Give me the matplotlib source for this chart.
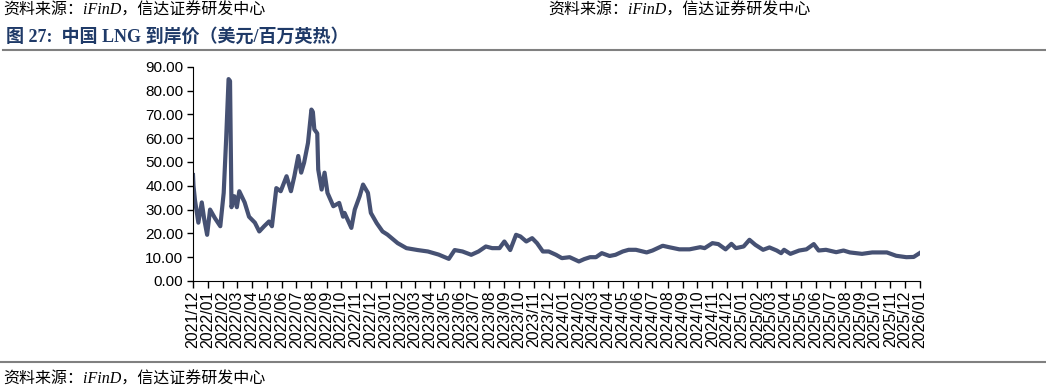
import matplotlib
matplotlib.use("Agg")
import matplotlib.pyplot as plt
import matplotlib.dates as mdates
import pandas as pd

plt.rcParams['font.family'] = ['Liberation Sans', 'Noto Sans CJK SC']

# China LNG landed price (USD/MMBtu)
dates = [
    "2021-12-01", "2021-12-02", "2021-12-05", "2021-12-12", "2021-12-19", "2021-12-24", "2021-12-30",
    "2022-01-05", "2022-01-15", "2022-01-26", "2022-02-02", "2022-02-07", "2022-02-12", "2022-02-15",
    "2022-02-18", "2022-02-24", "2022-03-01", "2022-03-06", "2022-03-17", "2022-03-26", "2022-04-07",
    "2022-04-16", "2022-04-26", "2022-05-06", "2022-05-12", "2022-05-21", "2022-05-30", "2022-06-11",
    "2022-06-20", "2022-06-27", "2022-07-05", "2022-07-11", "2022-07-17", "2022-07-25", "2022-08-01",
    "2022-08-04", "2022-08-07", "2022-08-13", "2022-08-15", "2022-08-22", "2022-08-28", "2022-09-03",
    "2022-09-15", "2022-09-27", "2022-10-05", "2022-10-08", "2022-10-22", "2022-10-29", "2022-11-08",
    "2022-11-15", "2022-11-25", "2022-12-01", "2022-12-13", "2022-12-25", "2023-01-04", "2023-01-25",
    "2023-02-12", "2023-03-07", "2023-03-28", "2023-04-19", "2023-05-10", "2023-05-22", "2023-06-07",
    "2023-06-25", "2023-07-10", "2023-07-25", "2023-08-07", "2023-08-22", "2023-09-01", "2023-09-13",
    "2023-09-25", "2023-10-04", "2023-10-16", "2023-10-28", "2023-11-07", "2023-11-19", "2023-12-01",
    "2023-12-16", "2023-12-28", "2024-01-13", "2024-02-01", "2024-02-12", "2024-02-24", "2024-03-07",
    "2024-03-19", "2024-04-04", "2024-04-16", "2024-05-01", "2024-05-13", "2024-05-28", "2024-06-19",
    "2024-07-01", "2024-07-22", "2024-08-04", "2024-08-25", "2024-09-15", "2024-10-07", "2024-10-16",
    "2024-11-01", "2024-11-13", "2024-11-28", "2024-12-10", "2024-12-19", "2025-01-04", "2025-01-16",
    "2025-01-28", "2025-02-13", "2025-02-26", "2025-03-13", "2025-03-22", "2025-03-28", "2025-04-10",
    "2025-04-28", "2025-05-13", "2025-05-28", "2025-06-07", "2025-06-22", "2025-07-13", "2025-07-28",
    "2025-08-10", "2025-09-04", "2025-09-25", "2025-10-25", "2025-11-13", "2025-12-04", "2025-12-19",
    "2026-01-01",
]
prices = [
    44.5, 40.0, 34.0, 24.5, 33.0, 26.0, 19.4,
    30.0, 26.4, 23.0, 37.0, 59.5, 84.8, 84.0,
    31.0, 35.6, 31.0, 37.7, 33.0, 27.0, 24.5,
    20.8, 23.0, 25.0, 23.0, 39.0, 37.7, 44.0,
    37.7, 44.0, 52.5, 45.5, 49.7, 58.0, 72.0,
    71.0, 63.7, 62.0, 46.8, 38.4, 45.5, 37.0,
    31.4, 32.8, 27.0, 28.6, 22.3, 30.0, 35.6,
    40.5, 37.0, 28.6, 24.3, 20.8, 19.5, 15.9,
    13.8, 13.0, 12.4, 11.1, 9.3, 13.0, 12.4,
    11.0, 12.4, 14.5, 13.8, 13.8, 16.6, 13.0,
    19.4, 18.7, 16.6, 18.0, 15.9, 12.4, 12.4,
    11.0, 9.6, 10.0, 8.2, 9.2, 10.0, 10.0,
    11.7, 10.5, 11.0, 12.4, 13.1, 13.1, 12.0,
    12.8, 14.8, 14.2, 13.3, 13.3, 14.2, 13.8,
    15.9, 15.5, 13.3, 15.6, 13.8, 14.5, 17.3,
    15.2, 13.1, 14.1, 12.8, 11.7, 13.1, 11.4,
    12.8, 13.3, 15.5, 12.8, 13.1, 12.1, 12.8,
    12.0, 11.4, 12.0, 12.0, 10.6, 10.0, 10.1,
    11.8,
]
yticks = [0, 10, 20, 30, 40, 50, 60, 70, 80, 90]

source = "资料来源：iFinD，信达证券研发中心"
title = "图 27:  中国 LNG 到岸价（美元/百万英热）"

W, H = 1046, 392
fig = plt.figure(figsize=(W / 100, H / 100), dpi=100)

x = pd.to_datetime(dates)
ax = fig.add_axes([193 / W, 1 - 281 / H, (920 - 193) / W, (281 - 66.7) / H])
ax.plot(x, prices, color='#465173', linewidth=3, solid_joinstyle='round')

ax.set_xlim(pd.Timestamp("2021-12-01"), pd.Timestamp("2026-01-01"))
ax.set_ylim(0, 90)
ax.set_yticks(yticks)
ax.yaxis.set_major_formatter(matplotlib.ticker.FormatStrFormatter('%.2f'))
ax.xaxis.set_major_locator(mdates.MonthLocator())
ax.xaxis.set_major_formatter(mdates.DateFormatter('%Y/%m'))
ax.tick_params(axis='x', labelrotation=90, labelsize=11.5, length=5, width=1, pad=2)
ax.tick_params(axis='y', labelsize=11, length=4, width=1, pad=3)
for lab in ax.get_xticklabels():
    lab.set_horizontalalignment('center')
ax.spines['top'].set_visible(False)
ax.spines['right'].set_visible(False)

src_font = ['Liberation Serif', 'Noto Sans CJK SC']
fig.text(3 / W, 1 - 11 / H, source, fontsize=11.5, style='italic', family=src_font, va='center')
fig.text(548 / W, 1 - 11 / H, source, fontsize=11.5, style='italic', family=src_font, va='center')
fig.text(6 / W, 1 - 37 / H, title, fontsize=13, fontweight='bold', color='#1F3A68',
         family=src_font, va='center')
fig.text(3 / W, 1 - 380 / H, source, fontsize=11.5, style='italic', family=src_font, va='center')

fig.add_artist(plt.Line2D([3 / W, 1], [1 - 49.5 / H] * 2, color='#808080', linewidth=1.5))
fig.add_artist(plt.Line2D([0, 1], [1 - 362 / H] * 2, color='#808080', linewidth=1.5))

fig.savefig("out.png", dpi=100)
